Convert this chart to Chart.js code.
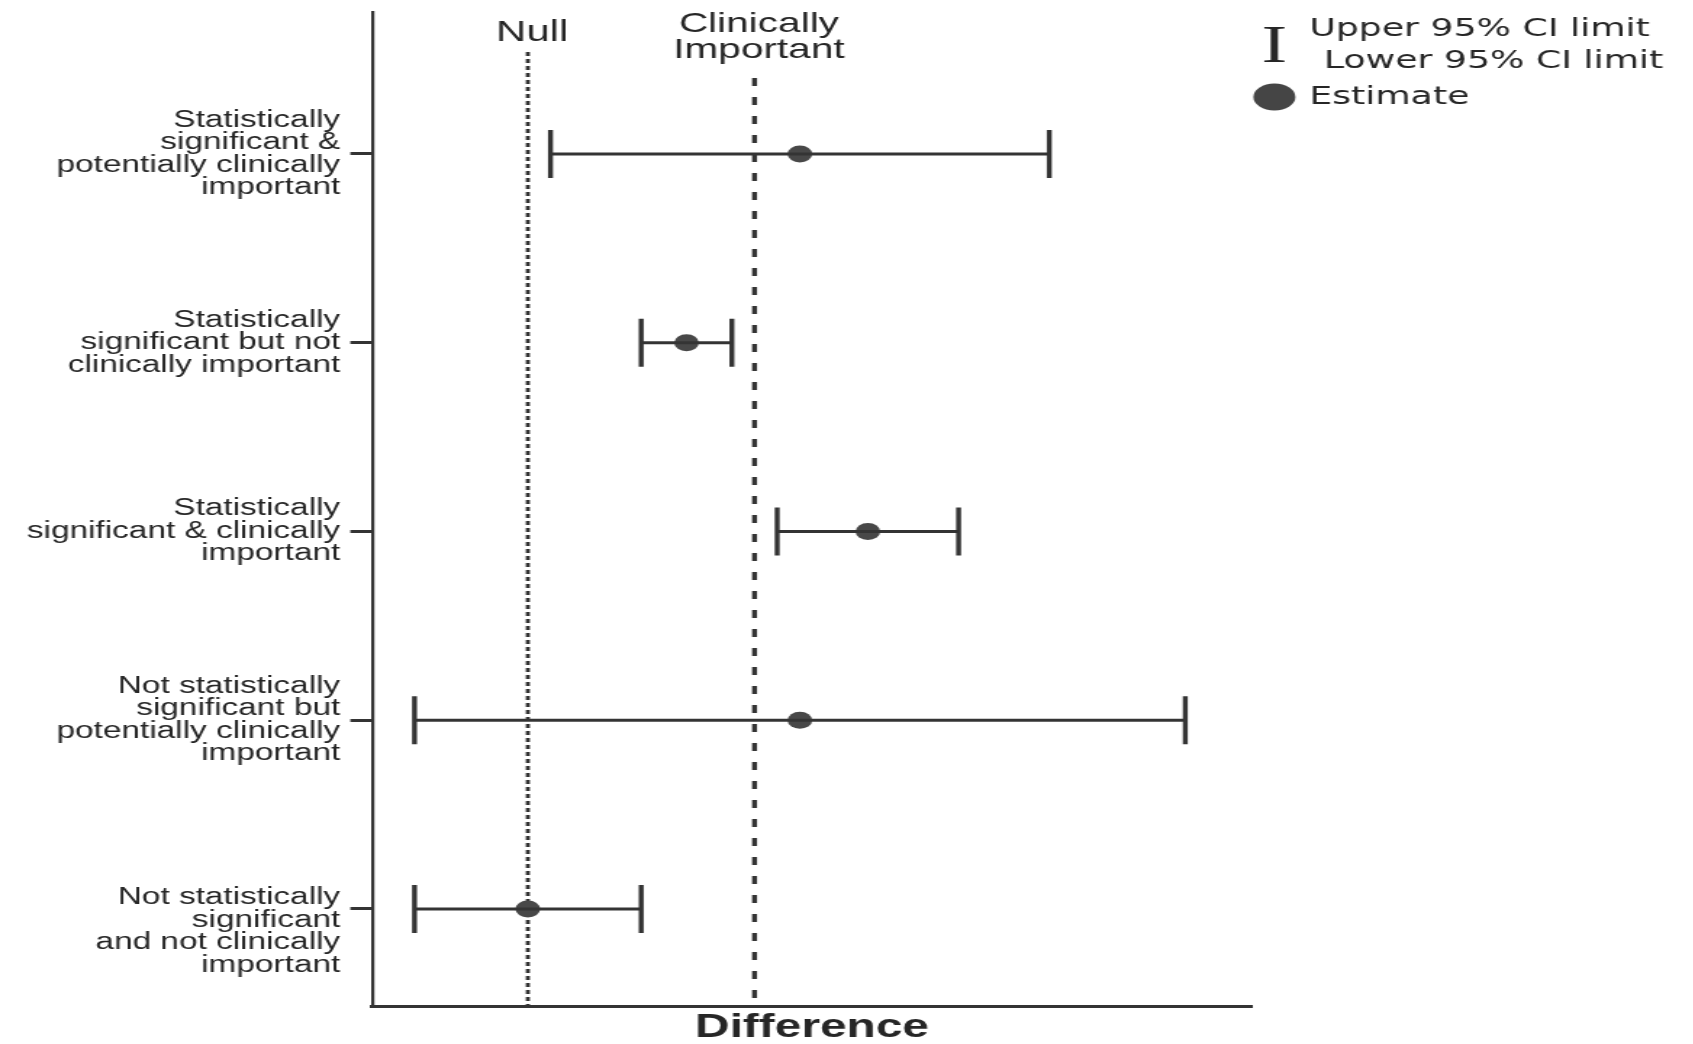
<!DOCTYPE html>
<html lang="en">
<head>
    <meta charset="UTF-8">
    <title>Difference: statistical vs clinical importance</title>
    <script src="https://cdn.jsdelivr.net/npm/chart.js"></script>
    <style>
        html, body { margin: 0; padding: 0; background: #fff; overflow: hidden; }
        /* the original figure is a horizontally stretched scan, so stretch the whole chart */
        #wrap { width: 1168px; height: 1044px; transform: scaleX(1.45); transform-origin: 0 0; }
    </style>
</head>
<body>
    <div id="wrap"><canvas id="ciChart" width="1168" height="1044"></canvas></div>

    <script>
        // rows, top to bottom
        const rowLabels = [
            ['Statistically', 'significant &', 'potentially clinically', 'important'],
            ['Statistically', 'significant but not', 'clinically important'],
            ['Statistically', 'significant & clinically', 'important'],
            ['Not statistically', 'significant but', 'potentially clinically', 'important'],
            ['', '', 'Not statistically', 'significant', 'and not clinically', 'important']
        ];
        const rowPositions = [1, 2, 3, 4, 5];

        // difference scale: null = 0, clinically important = 1
        const lowerLimits = [0.1, 0.5, 1.1, -0.5, -0.5];
        const estimates   = [1.2, 0.7, 1.5, 1.2, 0];
        const upperLimits = [2.3, 0.9, 1.9, 2.9, 0.5];

        const nullValue = 0;
        const clinicalValue = 1;

        const ink = '#343434';
        const textInk = '#262626';

        // one line dataset per row: lower -> upper, caps drawn as rotated 'line' points
        const ciSets = rowPositions.map((row, i) => ({
            type: 'line',
            data: [{ x: lowerLimits[i], y: row }, { x: upperLimits[i], y: row }],
            borderColor: ink,
            borderWidth: 3.2,
            pointStyle: 'line',
            rotation: 90,
            pointRadius: 24,
            pointBorderWidth: 3.4,
            pointBorderColor: ink
        }));

        const estimateSet = {
            type: 'scatter',
            data: rowPositions.map((row, i) => ({ x: estimates[i], y: row })),
            pointStyle: 'circle',
            pointRadius: 8.5,
            backgroundColor: '#484848',
            borderWidth: 0
        };

        // reference lines + their labels + the key on the right
        const guidePlugin = {
            id: 'guides',
            beforeDatasetsDraw(chart) {
                const { ctx, chartArea } = chart;
                const x = chart.scales.x;
                const nx = x.getPixelForValue(nullValue);
                const cx = x.getPixelForValue(clinicalValue);
                ctx.save();
                ctx.strokeStyle = ink;

                ctx.lineWidth = 2.8;
                ctx.setLineDash([4, 3]);
                ctx.beginPath();
                ctx.moveTo(nx, 52);
                ctx.lineTo(nx, chartArea.bottom);
                ctx.stroke();

                ctx.lineWidth = 3.4;
                ctx.setLineDash([8, 11]);
                ctx.beginPath();
                ctx.moveTo(cx, 78);
                ctx.lineTo(cx, chartArea.bottom);
                ctx.stroke();
                ctx.restore();
            },
            afterDraw(chart) {
                const { ctx, chartArea } = chart;
                const x = chart.scales.x;
                ctx.save();
                ctx.fillStyle = textInk;
                ctx.textAlign = 'center';
                ctx.textBaseline = 'middle';
                ctx.font = '29px "Liberation Sans", Arial, sans-serif';
                ctx.fillText('Null', x.getPixelForValue(nullValue) + 3, 33);
                ctx.font = '28px "Liberation Sans", Arial, sans-serif';
                ctx.fillText('Clinically', x.getPixelForValue(clinicalValue) + 3, 24);
                ctx.fillText('Important', x.getPixelForValue(clinicalValue) + 3, 50);

                // key
                const kx = chartArea.right + 15.5;
                ctx.font = '53px "Liberation Serif", "DejaVu Serif", serif';
                ctx.textBaseline = 'alphabetic';
                ctx.fillText('I', kx, 62);

                ctx.textAlign = 'left';
                ctx.textBaseline = 'middle';
                ctx.font = '25px "DejaVu Sans", sans-serif';
                ctx.fillText('Upper 95% CI limit', kx + 24, 29);
                ctx.fillText('Lower 95% CI limit', kx + 34, 61);
                ctx.fillText('Estimate', kx + 24, 97);

                ctx.fillStyle = '#454545';
                ctx.beginPath();
                ctx.ellipse(kx, 97, 14.5, 13.5, 0, 0, Math.PI * 2);
                ctx.fill();
                ctx.restore();
            }
        };

        new Chart(document.getElementById('ciChart'), {
            data: { datasets: [...ciSets, estimateSet] },
            options: {
                responsive: false,
                animation: false,
                events: [],
                layout: {
                    autoPadding: false,
                    padding: { left: 0, top: 12, right: 304.6, bottom: 0 }
                },
                plugins: {
                    legend: { display: false },
                    tooltip: { enabled: false }
                },
                scales: {
                    x: {
                        type: 'linear',
                        min: -0.687,
                        max: 3.194,
                        ticks: { display: false },
                        grid: { display: false },
                        border: { display: true, color: ink, width: 3 },
                        title: {
                            display: true,
                            text: 'Difference',
                            color: textInk,
                            padding: 0,
                            font: { family: '"Liberation Sans", Arial, sans-serif', size: 33, weight: 'bold', lineHeight: 1 }
                        },
                        afterFit(scale) {
                            scale.height = 38;
                            scale.paddingLeft = 0;
                            scale.paddingRight = 0;
                        }
                    },
                    y: {
                        type: 'linear',
                        reverse: true,
                        min: 0.2477,
                        max: 5.514,
                        afterBuildTicks(scale) {
                            scale.ticks = rowPositions.map(v => ({ value: v }));
                        },
                        afterFit(scale) {
                            // labels never reach the axis ends, so no extra room above/below
                            scale.width = 256.6;
                            scale.paddingTop = 0;
                            scale.paddingBottom = 0;
                        },
                        ticks: {
                            autoSkip: false,
                            padding: 7,
                            color: textInk,
                            font: { family: '"Liberation Sans", Arial, sans-serif', size: 23, lineHeight: 0.98 },
                            callback: (value, index) => rowLabels[index]
                        },
                        grid: {
                            display: true,
                            drawOnChartArea: false,
                            drawTicks: true,
                            tickLength: 15,
                            tickWidth: 3,
                            tickColor: ink
                        },
                        border: { display: true, color: ink, width: 2.2 }
                    }
                }
            },
            plugins: [guidePlugin]
        });
    </script>
</body>
</html>
